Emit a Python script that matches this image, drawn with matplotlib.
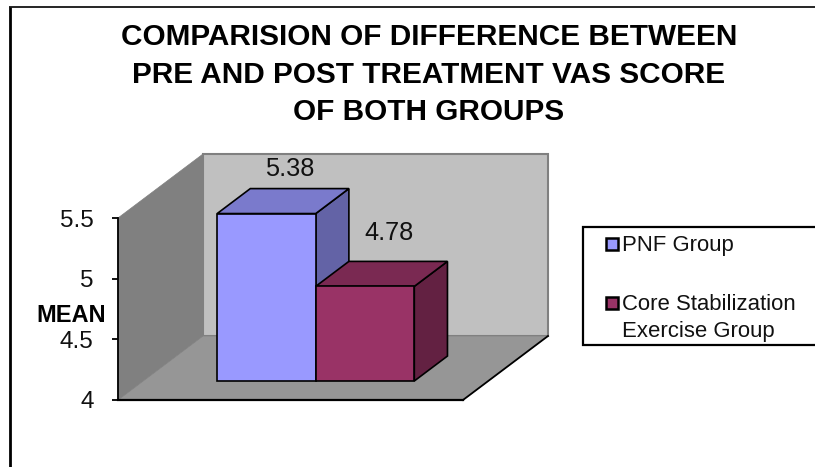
import matplotlib
matplotlib.use("Agg")
import matplotlib.pyplot as plt
from matplotlib.patches import Polygon, Rectangle

plt.rcParams["font.family"] = ["Liberation Sans", "DejaVu Sans"]

title_lines = ["COMPARISION OF DIFFERENCE BETWEEN",
               "PRE AND POST TREATMENT VAS SCORE",
               "OF BOTH GROUPS"]
groups = ["PNF Group", "Core Stabilization", "Exercise Group"]
means = [5.38, 4.78]
y_ticks = [4, 4.5, 5, 5.5]
y_tick_labels = ["4", "4.5", "5", "5.5"]

front_colors = ["#9999FF", "#993366"]
top_colors = ["#7A7ACC", "#7A2952"]
side_colors = ["#6363A6", "#632142"]

W, H = 815, 467
fig = plt.figure(figsize=(W / 100, H / 100), dpi=100)

# the frame and legend live on a pixel-sized overlay
page = fig.add_axes([0, 0, 1, 1])
page.set_xlim(0, W)
page.set_ylim(H, 0)
page.axis("off")

ax = fig.add_axes([118 / W, 1 - 400 / H, 345 / W, 182 / H])
ax.set_xlim(-1.25, 2.25)
ax.set_ylim(4, 5.5)
ax.patch.set_visible(False)
for s in ["top", "right"]:
    ax.spines[s].set_visible(False)
ax.spines["left"].set_linewidth(1.3)
ax.spines["bottom"].set_linewidth(1.6)
ax.spines["left"].set_zorder(6)
ax.spines["bottom"].set_zorder(6)

# oblique depth of the box, in data units
dx = 85 / (345 / 3.5)
dy = 64 / (182 / 1.5)
x0, x1 = ax.get_xlim()
y0, y1 = ax.get_ylim()


def poly(pts, color, edge="none", lw=0, z=1):
    ax.add_patch(Polygon(pts, closed=True, facecolor=color, edgecolor=edge,
                         linewidth=lw, zorder=z, clip_on=False, joinstyle="miter"))


# back wall, side wall and floor
poly([(x0 + dx, y0 + dy), (x1 + dx, y0 + dy), (x1 + dx, y1 + dy), (x0 + dx, y1 + dy)],
     "#C0C0C0", "#808080", 1.5, 1)
poly([(x0, y0), (x0, y1), (x0 + dx, y1 + dy), (x0 + dx, y0 + dy)], "#808080", "#808080", 0.5, 2)
poly([(x0, y0), (x1, y0), (x1 + dx, y0 + dy), (x0 + dx, y0 + dy)], "#969696", "#808080", 0.5, 2)
ax.plot([x1, x1 + dx], [y0, y0 + dy], color="black", lw=1.3, zorder=3, clip_on=False)

# bars sit partway into the depth of the floor, later bars in front
near = 0.297
deep = 0.39
label_gap = [0.165, 0.23]
for i, v in enumerate(means):
    left = i - 0.5 + near * dx
    right = i + 0.5 + near * dx
    base = y0 + near * dy
    top = v + near * dy
    ddx = deep * dx
    ddy = deep * dy
    z = 4 + i
    poly([(right, base), (right + ddx, base + ddy), (right + ddx, top + ddy), (right, top)],
         side_colors[i], "black", 1.2, z)
    poly([(left, top), (right, top), (right + ddx, top + ddy), (left + ddx, top + ddy)],
         top_colors[i], "black", 1.2, z)
    poly([(left, base), (right, base), (right, top), (left, top)],
         front_colors[i], "black", 1.2, z)
    ax.text(i + near * dx + ddx * 0.5 + 0.07, top + ddy + label_gap[i], f"{v:.2f}",
            ha="center", va="center", fontsize=18.3, color="#111111", zorder=8)

ax.set_xticks([])
ax.set_yticks(y_ticks)
ax.set_yticklabels(y_tick_labels, fontsize=17.5, color="#111111")
ax.tick_params(axis="y", length=4.5, width=1.3, pad=13)

page.text(71, 315, "MEAN", fontsize=17, fontweight="bold", ha="center", va="center")

for line, yy in zip(title_lines, [37, 75, 112]):
    page.text(429, yy, line, fontsize=21.4, fontweight="bold", ha="center", va="center",
              color="#000000")

# legend box runs off to the right
page.add_patch(Rectangle((583, 227), 240, 118, facecolor="white", edgecolor="black",
                         linewidth=1.6, clip_on=True))
for yy, c in zip([244, 303], front_colors):
    page.add_patch(Rectangle((605.5, yy - 6), 12, 12, facecolor=c, edgecolor="black", linewidth=1.8))
for label, yy in zip(groups, [245, 304, 331]):
    page.text(622.5, yy, label, fontsize=15.9, ha="left", va="center", color="#111111")

# outer border of the chart area
page.plot([10, 10], [H, 6.5], color="black", lw=2.0, solid_capstyle="butt")
page.plot([9, W], [6.5, 6.5], color="black", lw=1.2, solid_capstyle="butt")

fig.savefig("out.png", dpi=100, facecolor="white")
